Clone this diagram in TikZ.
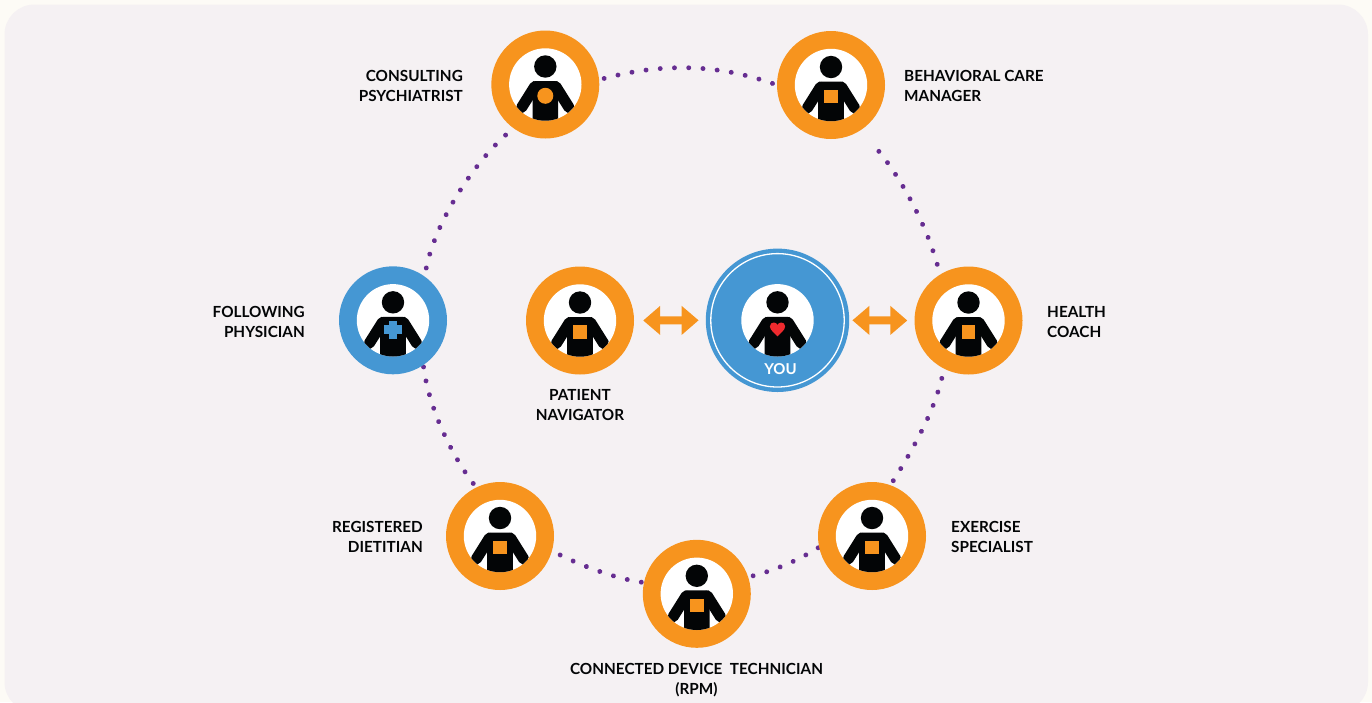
\documentclass[tikz,border=0pt]{standalone}
\usepackage{fontspec}
\setmainfont{Lato}
\usetikzlibrary{arrows.meta}
\pgfdeclarelayer{back}
\pgfsetlayers{back,main}
\definecolor{orng}{HTML}{F7941E}
\definecolor{blu}{HTML}{4597D3}
\definecolor{purp}{HTML}{662D91}
\definecolor{ink}{HTML}{030506}
\definecolor{panel}{HTML}{F5F1F3}
\definecolor{page}{HTML}{FDFBF6}
\definecolor{hrt}{HTML}{EE2A2E}
\tikzset{
  x=1pt,y=-1pt,
  ringo/.style={circle,fill=orng,minimum size=108pt,inner sep=0pt},
  ringb/.style={circle,fill=blu,minimum size=108pt,inner sep=0pt},
  lab/.style={font=\fontsize{15.3}{20}\selectfont\bfseries,text=ink,inner sep=0pt},
  labr/.style={lab,align=right,anchor=east},
  labl/.style={lab,align=left,anchor=west},
  labc/.style={lab,align=center},
  dotline/.style={draw=purp,line width=4.9pt,line cap=round},
  dotarc/.style 2 args={dotline,dash pattern=on 0.01pt off #2pt,dash phase={#2pt-#1pt}},
  twoway/.style={orng,line width=8pt,{Triangle[length=17pt,width=28pt]}-{Triangle[length=17pt,width=28pt]}},
  pics/person/.style={code={
    \fill[white] (0,0) circle (36.2);
    \begin{scope}
      \clip (0,0) circle (36.2);
      \fill[ink] (0,-18) circle (11.2);
      \fill[ink,rounded corners=3pt] (-12.8,40) -- (-12.8,-3.5) -- (12.8,-3.5) -- (12.8,40) -- cycle;
      \draw[ink,line width=11pt,line cap=round] (-10.5,2) -- (-23.7,23);
      \draw[ink,line width=11pt,line cap=round] (10.5,2) -- (23.7,23);
    \end{scope}
  }},
  pics/emsq/.style={code={\fill[orng] (-6.7,4.7) rectangle (6.7,18.1);}},
  pics/emci/.style={code={\fill[orng] (0,11.3) circle (8);}},
  pics/emcr/.style={code={\fill[blu] (-4.3,0.3) rectangle (4.3,18.5); \fill[blu] (-9.2,5.1) rectangle (9.2,13.7);}},
  pics/emhe/.style={code={\fill[hrt] (0,16) .. controls (-3,12.5) and (-7.6,10) .. (-7.6,6)
      .. controls (-7.6,3.4) and (-5.6,2.2) .. (-3.8,2.2)
      .. controls (-2,2.2) and (-0.6,3.2) .. (0,4.6)
      .. controls (0.6,3.2) and (2,2.2) .. (3.8,2.2)
      .. controls (5.6,2.2) and (7.6,3.4) .. (7.6,6)
      .. controls (7.6,10) and (3,12.5) .. (0,16) -- cycle;}},
}
\begin{document}
\begin{tikzpicture}
\useasboundingbox (0,0) rectangle (1372,702);
\begin{pgfonlayer}{back}
  \fill[page] (0,0) rectangle (1372,702);
  \fill[panel,rounded corners=30pt] (4.5,4.5) rectangle (1368,712);
\end{pgfonlayer}
% rings
\node[ringo] (psy) at (545.3,84.5) {};
\node[ringo] (beh) at (831,85) {};
\node[ringo] (hea) at (968.5,320.5) {};
\node[ringo] (exe) at (872,536) {};
\node[ringo] (con) at (696.8,593.8) {};
\node[ringo] (reg) at (500,536) {};
\node[ringb] (fol) at (393,320.3) {};
\node[ringo] (nav) at (580,320.5) {};
\node[circle,fill=blu,minimum size=143.4pt,inner sep=0pt] (you) at (777.5,320.3) {};
\node[circle,draw=white,line width=1.3pt,minimum size=133.4pt,inner sep=0pt] (youline) at (you) {};
% people
\pic at (psy) {person}; \pic at (psy) {emci};
\pic at (beh) {person}; \pic at (beh) {emsq};
\pic at (hea) {person}; \pic at (hea) {emsq};
\pic at (exe) {person}; \pic at (exe) {emsq};
\pic at (con) {person}; \pic at (con) {emsq};
\pic at (reg) {person}; \pic at (reg) {emsq};
\pic at (nav) {person}; \pic at (nav) {emsq};
\pic at (fol) {person}; \pic at (fol) {emcr};
\pic at (you) {person}; \pic at (you) {emhe};
% labels
\node[lab,text=white,font=\fontsize{15}{18}\selectfont\bfseries] (youtxt) at (780.5,369.3) {YOU};
\node[labr] (lpsy) at (463,86) {CONSULTING\\PSYCHIATRIST};
\node[labl] (lbeh) at (904,86) {BEHAVIORAL CARE\\MANAGER};
\node[labl] (lhea) at (1047,322) {HEALTH\\COACH};
\node[labl] (lexe) at (951,537) {EXERCISE\\SPECIALIST};
\node[labc] (lcon) at (696.5,680) {CONNECTED DEVICE\ \ TECHNICIAN\\(RPM)};
\node[labr] (lreg) at (423,537) {REGISTERED\\DIETITIAN};
\node[labr] (lfol) at (305,322) {FOLLOWING\\PHYSICIAN};
\node[labc] (lnav) at (580,405.5) {PATIENT\\NAVIGATOR};
% two-way arrows
\draw[twoway,shorten <=9pt,shorten >=7pt] (nav.east) -- (you.west);
\draw[twoway,shorten <=3pt,shorten >=7pt] (you.east) -- (hea.west);
% dotted circle
\begin{pgfonlayer}{back}
\draw[dotarc={5}{14.25}] (psy.5) .. controls +(60,-17) and +(-60,-22) .. (beh.180);
\draw[dotline,dash pattern=on 0.01pt off 14.2pt on 0.01pt off 14.2pt on 0.01pt off 14.2pt on 0.01pt off 14.2pt on 0.01pt off 14.2pt on 0.01pt off 14.2pt on 0.01pt off 14.2pt on 0.01pt off 14.2pt on 0.01pt off 14.2pt on 0.01pt off 60pt,dash phase=159.9pt] (beh.-58) .. controls +(36,32) and +(-10,-45) .. (hea.122);
\draw[dotarc={9.8}{14.2}] (hea.-117) .. controls +(-7,38) and +(24,-38) .. (exe.70);
\draw[dotarc={1}{14.2}] (exe.192) .. controls +(-24,15) and +(24,-6) .. (con.18);
\draw[dotarc={2.5}{14.3}] (con.168) .. controls +(-30,-4) and +(26,13.5) .. (reg.-16);
\draw[dotarc={4.9}{14.2}] (reg.116) .. controls +(-25,-31) and +(5,41) .. (fol.-56);
\draw[dotarc={8.6}{14.25}] (fol.54) .. controls +(6,-48) and +(-40,32) .. (psy.-126.5);
\end{pgfonlayer}
\end{tikzpicture}
\end{document}
